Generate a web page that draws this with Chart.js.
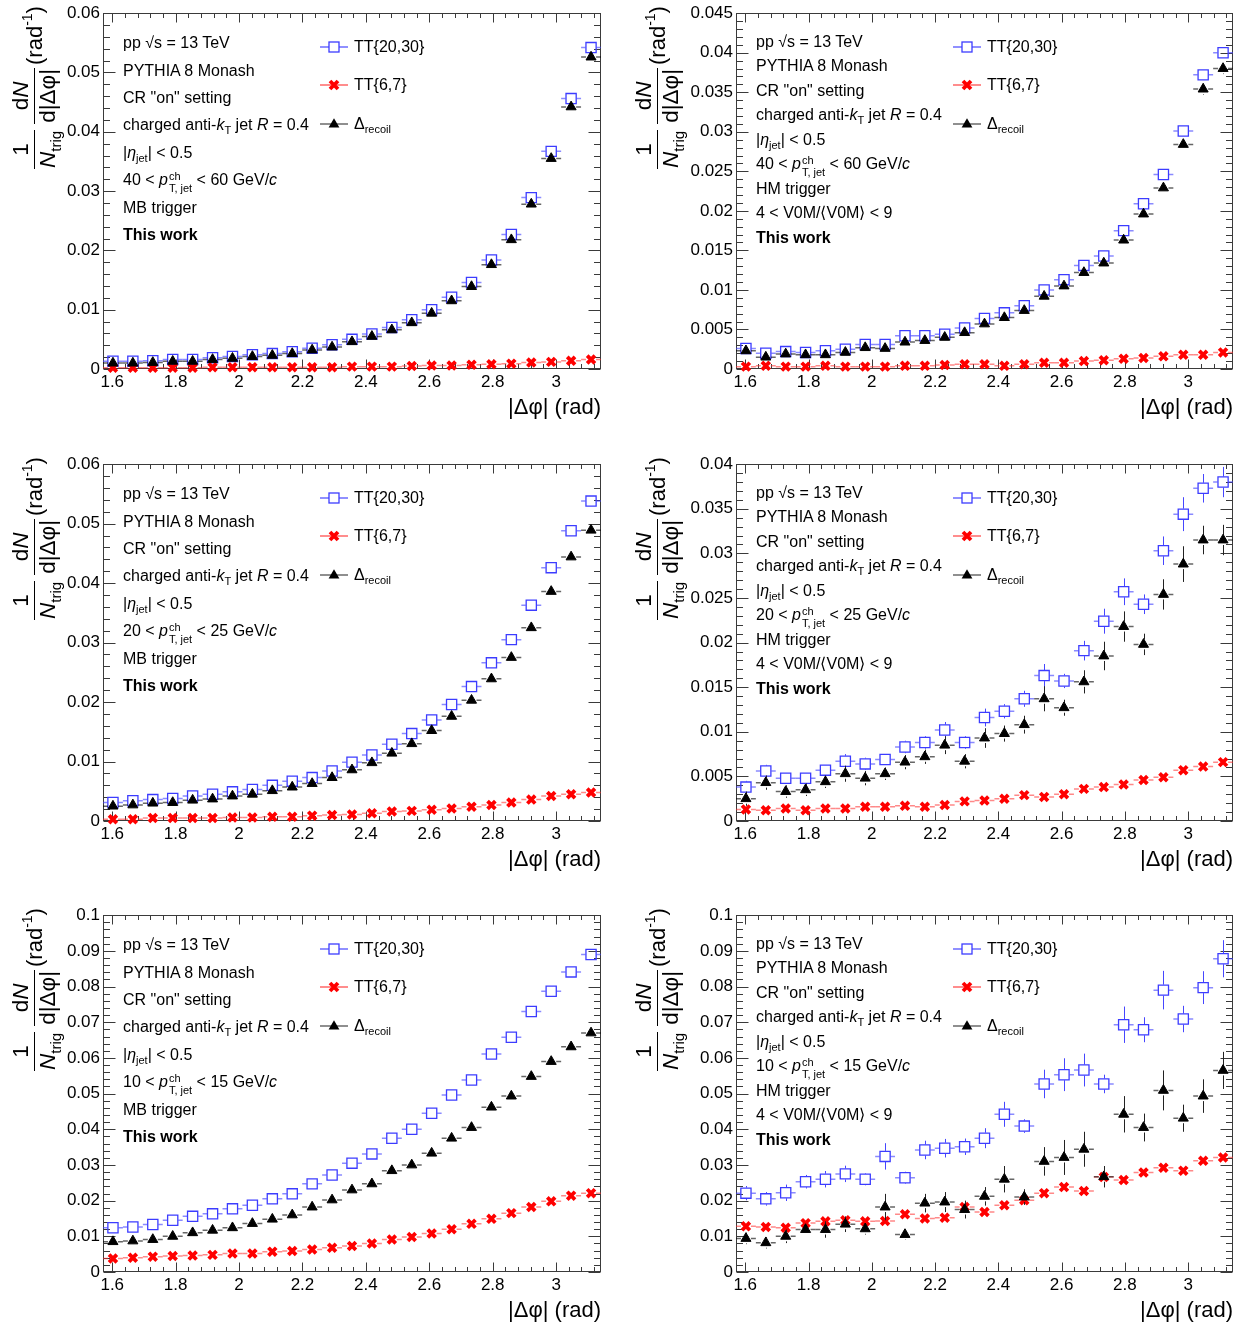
<!DOCTYPE html>
<html>
<head>
<meta charset="utf-8">
<script src="https://cdn.jsdelivr.net/npm/chart.js@4.4.0/dist/chart.umd.min.js"></script>
<style>
html,body{margin:0;padding:0;background:#fff;}
body{width:1253px;height:1328px;position:relative;overflow:hidden;font-family:"Liberation Sans",Arial,Helvetica,sans-serif;color:#000;}
canvas.pc{position:absolute;z-index:1;}
.t{position:absolute;font-size:16px;line-height:20px;white-space:nowrap;z-index:2;}
sub.s{font-size:11px;vertical-align:-4px;line-height:0;}
.ss{display:inline-block;vertical-align:-7px;font-size:11px;line-height:12px;margin-left:1px;}
.ss span{display:block;}
.leg{position:absolute;z-index:2;height:20px;display:flex;align-items:center;font-size:16px;white-space:nowrap;}
.leg svg{display:block;margin-right:5px;}
.yt{position:absolute;width:200px;height:60px;display:flex;align-items:center;justify-content:center;transform:rotate(-90deg);z-index:2;font-size:22px;white-space:nowrap;}
.fr{display:inline-flex;flex-direction:column;align-items:center;margin:0 3px;font-size:22.5px;}
.fr .nu{line-height:23px;padding:0 1px 2px;}
.fr .de{line-height:26px;border-top:1.7px solid #000;padding:0 1px;}
.fr sub{font-size:15px;vertical-align:-6px;line-height:0;}
.un sup{font-size:14px;vertical-align:10px;line-height:0;}
</style>
</head>
<body>
<script>
// ---------------- data ----------------
const binCenters = [1.6022,1.6650,1.7279,1.7907,1.8535,1.9164,1.9792,2.0420,2.1049,2.1677,2.2305,2.2934,2.3562,2.4190,2.4819,2.5447,2.6075,2.6704,2.7332,2.7960,2.8588,2.9217,2.9845,3.0473,3.1102];
const binHalfWidth = 0.0314;
const xMin = 1.5708, xMax = 3.1416;
const xTickValues = [1.6,1.8,2.0,2.2,2.4,2.6,2.8,3.0];
const yTicks006 = [0,0.01,0.02,0.03,0.04,0.05,0.06];
const yTicks0045 = [0,0.005,0.01,0.015,0.02,0.025,0.03,0.035,0.04,0.045];
const yTicks004 = [0,0.005,0.01,0.015,0.02,0.025,0.03,0.035,0.04];
const yTicks01 = [0,0.01,0.02,0.03,0.04,0.05,0.06,0.07,0.08,0.09,0.1];
const seriesLabels = ['TT{20,30}','TT{6,7}','Δ<sub class="s">recoil</sub>'];
const xAxisTitle = '|Δφ| (rad)';
const commonLines = ['pp √s = 13 TeV','PYTHIA 8 Monash','CR "on" setting','charged anti-<i>k</i><sub class="s">T</sub> jet <i>R</i> = 0.4','|<i>η</i><sub class="s">jet</sub>| &lt; 0.5'];
const ptRanges = [['40','60'],['20','25'],['10','15']];
const mbLines = ['MB trigger'];
const hmLines = ['HM trigger','4 &lt; V0M/⟨V0M⟩ &lt; 9'];
const workLabel = '<b>This work</b>';

// Panel 1: MB, 40-60
const p1_tt20 = [0.0013,0.0013,0.0014,0.0016,0.0016,0.0019,0.0021,0.0024,0.0026,0.0029,0.0035,0.0041,0.0050,0.0059,0.0070,0.0083,0.0100,0.0121,0.0146,0.0184,0.0227,0.0289,0.0367,0.0456,0.0542];
const p1_tt20_err = [0.0001,0.0001,0.0001,0.0001,0.0001,0.0001,0.0001,0.0001,0.0001,0.0001,0.0001,0.0001,0.0001,0.0002,0.0002,0.0002,0.0002,0.0002,0.0002,0.0003,0.0003,0.0003,0.0004,0.0004,0.0004];
const p1_tt67 = [0.0002,0.0002,0.0002,0.0002,0.0002,0.0003,0.0003,0.0003,0.0003,0.0003,0.0003,0.0003,0.0004,0.0004,0.0004,0.0005,0.0006,0.0006,0.0007,0.0008,0.0009,0.0011,0.0012,0.0014,0.0016];
const p1_tt67_err = [0.00005,0.00005,0.00005,0.00005,0.00005,0.00005,0.00005,0.00005,0.00005,0.00005,0.00005,0.00005,0.00005,0.00005,0.00005,0.00005,0.00005,0.00005,0.00005,0.00005,0.00005,0.00005,0.00005,0.00005,0.00005];
const p1_drec = [0.0010,0.0010,0.0011,0.0013,0.0013,0.0016,0.0018,0.0021,0.0023,0.0026,0.0032,0.0037,0.0046,0.0055,0.0066,0.0078,0.0094,0.0115,0.0139,0.0176,0.0218,0.0278,0.0355,0.0442,0.0526];
const p1_drec_err = [0.0001,0.0001,0.0001,0.0001,0.0001,0.0001,0.0001,0.0001,0.0001,0.0001,0.0001,0.0001,0.0001,0.0002,0.0002,0.0002,0.0002,0.0002,0.0002,0.0003,0.0003,0.0003,0.0004,0.0004,0.0004];

// Panel 2: HM, 40-60
const p2_tt20 = [0.0026,0.0020,0.0022,0.0021,0.0023,0.0025,0.0031,0.0031,0.0042,0.0042,0.0044,0.0052,0.0064,0.0071,0.0080,0.0100,0.0113,0.0131,0.0143,0.0175,0.0209,0.0246,0.0301,0.0372,0.0400];
const p2_tt20_err = [0.0002,0.0002,0.0002,0.0002,0.0002,0.0002,0.0002,0.0002,0.0002,0.0002,0.0002,0.0002,0.0003,0.0003,0.0003,0.0003,0.0003,0.0004,0.0004,0.0004,0.0005,0.0005,0.0005,0.0006,0.0006];
const p2_tt67 = [0.0003,0.0004,0.0003,0.0003,0.0004,0.0003,0.0003,0.0003,0.0004,0.0004,0.0005,0.0006,0.0006,0.0004,0.0006,0.0008,0.0008,0.0010,0.0011,0.0013,0.0014,0.0016,0.0018,0.0018,0.0021];
const p2_tt67_err = [0.0001,0.0001,0.0001,0.0001,0.0001,0.0001,0.0001,0.0001,0.0001,0.0001,0.0001,0.0001,0.0001,0.0001,0.0001,0.0001,0.0001,0.0001,0.0001,0.0001,0.0001,0.0001,0.0001,0.0001,0.0001];
const p2_drec = [0.0023,0.0015,0.0019,0.0018,0.0018,0.0021,0.0027,0.0026,0.0034,0.0036,0.0040,0.0046,0.0057,0.0065,0.0074,0.0092,0.0105,0.0122,0.0134,0.0163,0.0196,0.0229,0.0284,0.0354,0.0380];
const p2_drec_err = [0.0002,0.0002,0.0002,0.0002,0.0002,0.0002,0.0002,0.0002,0.0002,0.0002,0.0002,0.0003,0.0003,0.0003,0.0003,0.0004,0.0004,0.0004,0.0005,0.0005,0.0005,0.0006,0.0006,0.0007,0.0007];

// Panel 3: MB, 20-25
const p3_tt20 = [0.0031,0.0034,0.0036,0.0038,0.0042,0.0045,0.0049,0.0053,0.0060,0.0067,0.0073,0.0084,0.0099,0.0111,0.0129,0.0147,0.0170,0.0196,0.0226,0.0266,0.0305,0.0363,0.0426,0.0488,0.0538];
const p3_tt20_err = [0.0001,0.0001,0.0001,0.0001,0.0001,0.0001,0.0001,0.0001,0.0001,0.0001,0.0002,0.0002,0.0002,0.0002,0.0002,0.0002,0.0002,0.0003,0.0003,0.0003,0.0003,0.0004,0.0004,0.0004,0.0004];
const p3_tt67 = [0.0003,0.0003,0.0005,0.0005,0.0005,0.0005,0.0006,0.0006,0.0007,0.0007,0.0009,0.0010,0.0011,0.0013,0.0016,0.0017,0.0019,0.0021,0.0024,0.0027,0.0031,0.0036,0.0042,0.0045,0.0048];
const p3_tt67_err = [0.00005,0.00005,0.00005,0.00005,0.00005,0.00005,0.00005,0.00005,0.00005,0.00005,0.00005,0.00005,0.00005,0.00005,0.00005,0.00005,0.00005,0.00005,0.00005,0.00005,0.00005,0.00005,0.00005,0.00005,0.00005];
const p3_drec = [0.0025,0.0027,0.0030,0.0031,0.0035,0.0037,0.0042,0.0045,0.0051,0.0057,0.0063,0.0073,0.0086,0.0098,0.0114,0.0130,0.0152,0.0176,0.0203,0.0239,0.0275,0.0325,0.0386,0.0444,0.0489];
const p3_drec_err = [0.0001,0.0001,0.0001,0.0001,0.0001,0.0001,0.0001,0.0001,0.0001,0.0001,0.0002,0.0002,0.0002,0.0002,0.0002,0.0002,0.0002,0.0003,0.0003,0.0003,0.0003,0.0004,0.0004,0.0004,0.0004];

// Panel 4: HM, 20-25
const p4_tt20 = [0.0038,0.0056,0.0048,0.0048,0.0057,0.0067,0.0064,0.0069,0.0083,0.0088,0.0102,0.0088,0.0116,0.0123,0.0137,0.0163,0.0157,0.0191,0.0224,0.0257,0.0243,0.0303,0.0344,0.0373,0.0380];
const p4_tt20_err = [0.0007,0.0007,0.0006,0.0006,0.0006,0.0008,0.0007,0.0006,0.0007,0.0007,0.0009,0.0007,0.0010,0.0008,0.0009,0.0013,0.0008,0.0011,0.0014,0.0015,0.0011,0.0016,0.0019,0.0016,0.0017];
const p4_tt67 = [0.0013,0.0012,0.0014,0.0012,0.0014,0.0014,0.0016,0.0016,0.0017,0.0016,0.0018,0.0022,0.0023,0.0025,0.0029,0.0027,0.0030,0.0036,0.0038,0.0041,0.0046,0.0049,0.0057,0.0061,0.0066];
const p4_tt67_err = [0.0002,0.0002,0.0002,0.0002,0.0002,0.0002,0.0002,0.0002,0.0002,0.0002,0.0002,0.0002,0.0002,0.0002,0.0003,0.0003,0.0003,0.0003,0.0003,0.0003,0.0003,0.0003,0.0003,0.0003,0.0003];
const p4_drec = [0.0025,0.0043,0.0033,0.0035,0.0044,0.0053,0.0048,0.0053,0.0066,0.0072,0.0085,0.0067,0.0093,0.0098,0.0108,0.0137,0.0127,0.0156,0.0185,0.0218,0.0198,0.0254,0.0288,0.0315,0.0315];
const p4_drec_err = [0.0008,0.0008,0.0007,0.0007,0.0007,0.0009,0.0008,0.0007,0.0008,0.0008,0.0010,0.0008,0.0011,0.0009,0.0010,0.0014,0.0009,0.0013,0.0016,0.0017,0.0012,0.0017,0.0020,0.0016,0.0017];

// Panel 5: MB, 10-15
const p5_tt20 = [0.0124,0.0126,0.0133,0.0145,0.0156,0.0163,0.0177,0.0187,0.0205,0.0219,0.0247,0.0272,0.0305,0.0331,0.0375,0.0400,0.0445,0.0496,0.0538,0.0611,0.0658,0.0730,0.0787,0.0841,0.0890];
const p5_tt20_err = [0.0003,0.0003,0.0003,0.0003,0.0003,0.0003,0.0004,0.0004,0.0004,0.0004,0.0005,0.0005,0.0005,0.0005,0.0006,0.0006,0.0006,0.0007,0.0007,0.0007,0.0008,0.0008,0.0008,0.0009,0.0009];
const p5_tt67 = [0.0038,0.0040,0.0043,0.0045,0.0046,0.0048,0.0052,0.0052,0.0057,0.0059,0.0063,0.0068,0.0073,0.0080,0.0091,0.0098,0.0108,0.0120,0.0135,0.0149,0.0165,0.0182,0.0198,0.0214,0.0221];
const p5_tt67_err = [0.0002,0.0002,0.0002,0.0002,0.0002,0.0002,0.0002,0.0002,0.0002,0.0002,0.0002,0.0002,0.0002,0.0002,0.0003,0.0003,0.0003,0.0003,0.0003,0.0003,0.0004,0.0004,0.0004,0.0004,0.0004];
const p5_drec = [0.0085,0.0087,0.0091,0.0100,0.0110,0.0117,0.0124,0.0136,0.0148,0.0160,0.0182,0.0202,0.0230,0.0247,0.0284,0.0300,0.0333,0.0375,0.0405,0.0462,0.0493,0.0548,0.0590,0.0631,0.0670];
const p5_drec_err = [0.0004,0.0004,0.0004,0.0004,0.0004,0.0004,0.0004,0.0004,0.0005,0.0005,0.0005,0.0005,0.0006,0.0006,0.0006,0.0007,0.0007,0.0007,0.0008,0.0008,0.0008,0.0009,0.0009,0.0010,0.0010];

// Panel 6: HM, 10-15
const p6_tt20 = [0.0221,0.0205,0.0222,0.0253,0.0260,0.0275,0.0260,0.0324,0.0264,0.0342,0.0347,0.0351,0.0375,0.0442,0.0409,0.0527,0.0553,0.0566,0.0527,0.0693,0.0679,0.0790,0.0709,0.0797,0.0878];
const p6_tt20_err = [0.0020,0.0019,0.0023,0.0019,0.0023,0.0023,0.0017,0.0037,0.0017,0.0026,0.0026,0.0023,0.0028,0.0035,0.0019,0.0040,0.0046,0.0046,0.0026,0.0051,0.0035,0.0054,0.0037,0.0046,0.0052];
const p6_tt67 = [0.0128,0.0126,0.0124,0.0137,0.0142,0.0145,0.0142,0.0143,0.0162,0.0150,0.0152,0.0182,0.0168,0.0187,0.0201,0.0221,0.0238,0.0227,0.0266,0.0258,0.0279,0.0292,0.0284,0.0312,0.0321];
const p6_tt67_err = [0.0008,0.0008,0.0008,0.0008,0.0008,0.0008,0.0008,0.0008,0.0008,0.0008,0.0008,0.0008,0.0008,0.0008,0.0008,0.0008,0.0008,0.0008,0.0008,0.0008,0.0008,0.0008,0.0008,0.0008,0.0008];
const p6_drec = [0.0094,0.0082,0.0100,0.0119,0.0119,0.0134,0.0121,0.0182,0.0105,0.0193,0.0196,0.0175,0.0212,0.0260,0.0210,0.0310,0.0321,0.0344,0.0267,0.0442,0.0405,0.0509,0.0431,0.0493,0.0565];
const p6_drec_err = [0.0016,0.0016,0.0019,0.0014,0.0023,0.0022,0.0016,0.0037,0.0015,0.0026,0.0028,0.0025,0.0026,0.0037,0.0022,0.0040,0.0049,0.0049,0.0030,0.0051,0.0039,0.0056,0.0038,0.0047,0.0052];

// ---------------- layout ----------------
const layout = [
  {L:103,T:11,R:601,B:369,tx:-68},
  {L:736,T:11,R:1233,B:369,tx:-78},
  {L:103,T:462,R:601,B:821,tx:-68},
  {L:736,T:462,R:1233,B:821,tx:-78},
  {L:103,T:913,R:601,B:1272,tx:-68},
  {L:736,T:913,R:1233,B:1272,tx:-78}
];
const panels = [
  {tt20:p1_tt20,tt20e:p1_tt20_err,tt67:p1_tt67,tt67e:p1_tt67_err,dr:p1_drec,dre:p1_drec_err,ymax:0.06,yt:yTicks006,ymaj:0.01,ymin:0.002,pt:ptRanges[0],hm:false},
  {tt20:p2_tt20,tt20e:p2_tt20_err,tt67:p2_tt67,tt67e:p2_tt67_err,dr:p2_drec,dre:p2_drec_err,ymax:0.045,yt:yTicks0045,ymaj:0.005,ymin:0.001,pt:ptRanges[0],hm:true},
  {tt20:p3_tt20,tt20e:p3_tt20_err,tt67:p3_tt67,tt67e:p3_tt67_err,dr:p3_drec,dre:p3_drec_err,ymax:0.06,yt:yTicks006,ymaj:0.01,ymin:0.002,pt:ptRanges[1],hm:false},
  {tt20:p4_tt20,tt20e:p4_tt20_err,tt67:p4_tt67,tt67e:p4_tt67_err,dr:p4_drec,dre:p4_drec_err,ymax:0.04,yt:yTicks004,ymaj:0.005,ymin:0.001,pt:ptRanges[1],hm:true},
  {tt20:p5_tt20,tt20e:p5_tt20_err,tt67:p5_tt67,tt67e:p5_tt67_err,dr:p5_drec,dre:p5_drec_err,ymax:0.1,yt:yTicks01,ymaj:0.01,ymin:0.002,pt:ptRanges[2],hm:false},
  {tt20:p6_tt20,tt20e:p6_tt20_err,tt67:p6_tt67,tt67e:p6_tt67_err,dr:p6_drec,dre:p6_drec_err,ymax:0.1,yt:yTicks01,ymaj:0.01,ymin:0.002,pt:ptRanges[2],hm:true}
];

Chart.defaults.font.family = '"Liberation Sans", Arial, Helvetica, sans-serif';
const fmt = v => String(parseFloat(Number(v).toFixed(4)));

const framePlugin = {
  id: 'frame',
  beforeDatasetsDraw(chart, args, o) {
    const {ctx, chartArea: a} = chart;
    const xs = chart.scales.x, ys = chart.scales.y;
    ctx.save();
    ctx.strokeStyle = '#3a3a3a';
    ctx.lineWidth = 1;
    const l = Math.round(a.left) + 0.5, r = Math.round(a.right) - 0.5;
    const t = Math.round(a.top) + 0.5, b = Math.round(a.bottom) - 0.5;
    ctx.strokeRect(l, t, r - l, b - t);
    ctx.beginPath();
    const n = Math.round(o.ymax / o.ymin);
    const per = Math.round(o.ymaj / o.ymin);
    for (let j = 0; j <= n; j++) {
      const py = Math.round(ys.getPixelForValue(j * o.ymin)) + 0.5;
      const len = (j % per === 0) ? 12 : 6.5;
      ctx.moveTo(l, py); ctx.lineTo(l + len, py);
      ctx.moveTo(r, py); ctx.lineTo(r - len, py);
    }
    for (let j = 0; j <= 38; j++) {
      const px = Math.round(xs.getPixelForValue(1.6 + 0.04 * j)) + 0.5;
      const len = (j % 5 === 0) ? 9 : 4.5;
      ctx.moveTo(px, b); ctx.lineTo(px, b - len);
      ctx.moveTo(px, t); ctx.lineTo(px, t + len);
    }
    ctx.stroke();
    ctx.restore();
  }
};

const errPlugin = {
  id: 'errbars',
  beforeDatasetDraw(chart, args) {
    const ds = chart.data.datasets[args.index];
    const ctx = chart.ctx, xs = chart.scales.x, ys = chart.scales.y;
    ctx.save();
    ds.data.forEach((pt, i) => {
      const px = xs.getPixelForValue(pt.x);
      const py = ys.getPixelForValue(pt.y);
      const xl = xs.getPixelForValue(pt.x - binHalfWidth);
      const xr = xs.getPixelForValue(pt.x + binHalfWidth);
      const yt = ys.getPixelForValue(pt.y + ds.errs[i]);
      const yb = ys.getPixelForValue(pt.y - ds.errs[i]);
      const g = ds.gap;
      ctx.strokeStyle = ds.hColor; ctx.lineWidth = 1.5;
      ctx.beginPath();
      ctx.moveTo(xl, py); ctx.lineTo(px - g, py);
      ctx.moveTo(px + g, py); ctx.lineTo(xr, py);
      ctx.stroke();
      if (py - yt > g) {
        const vx = Math.round(px) + 0.5;
        ctx.strokeStyle = ds.vColor; ctx.lineWidth = 1;
        ctx.beginPath();
        ctx.moveTo(vx, yt); ctx.lineTo(vx, py - g);
        ctx.moveTo(vx, py + g); ctx.lineTo(vx, yb);
        ctx.stroke();
      }
    });
    ctx.restore();
  }
};

function addDiv(cls, left, top, html) {
  const d = document.createElement('div');
  d.className = cls;
  d.style.left = left + 'px';
  d.style.top = top + 'px';
  d.innerHTML = html;
  document.body.appendChild(d);
  return d;
}

const legendSvgs = [
  '<svg width="30" height="20"><line x1="1" y1="10" x2="29" y2="10" stroke="#4646ff" stroke-width="1.2"/><rect x="10" y="5" width="10" height="10" fill="#fff" stroke="#3c3cff" stroke-width="1.3"/></svg>',
  '<svg width="30" height="20"><line x1="1" y1="10" x2="29" y2="10" stroke="#ff4040" stroke-width="1.2"/><path d="M11 6 L19 14 M19 6 L11 14" stroke="#ff0000" stroke-width="3.8"/></svg>',
  '<svg width="30" height="20"><line x1="1" y1="10" x2="29" y2="10" stroke="#444" stroke-width="1.2"/><polygon points="15,4.3 20.4,13.5 9.6,13.5" fill="#000"/></svg>'
];

panels.forEach((p, k) => {
  const g = layout[k];
  const cl = g.L - 103, ct = g.T - 11;
  const cw = g.R + 20 - cl, chh = (g.B - g.T) + 11 + 74;
  const cv = document.createElement('canvas');
  cv.className = 'pc';
  cv.width = cw; cv.height = chh;
  cv.style.left = cl + 'px'; cv.style.top = ct + 'px';
  cv.style.width = cw + 'px'; cv.style.height = chh + 'px';
  document.body.appendChild(cv);
  const mk = vals => vals.map((v, i) => ({x: binCenters[i], y: v}));
  new Chart(cv, {
    type: 'scatter',
    data: {datasets: [
      {label: 'Δrecoil', data: mk(p.dr), errs: p.dre, pointStyle: 'triangle', pointRadius: 5.8, backgroundColor: '#000', borderColor: '#000', borderWidth: 1, gap: 5, hColor: 'rgba(0,0,0,0.6)', vColor: '#222', clip: false},
      {label: 'TT{6,7}', data: mk(p.tt67), errs: p.tt67e, pointStyle: 'crossRot', pointRadius: 5.5, backgroundColor: '#ff0000', borderColor: '#ff0000', borderWidth: 3.8, gap: 5, hColor: 'rgba(255,40,40,0.55)', vColor: '#ff2020', clip: false},
      {label: 'TT{20,30}', data: mk(p.tt20), errs: p.tt20e, pointStyle: 'rect', pointRadius: 7.2, backgroundColor: 'rgba(255,255,255,0)', borderColor: '#3c3cff', borderWidth: 1.3, gap: 5.5, hColor: 'rgba(60,60,255,0.6)', vColor: '#4646ff', clip: false}
    ]},
    options: {
      responsive: false, animation: false, events: [],
      layout: {padding: {top: 11, right: 20, left: 0, bottom: 0}},
      plugins: {legend: {display: false}, tooltip: {enabled: false},
        frame: {ymax: p.ymax, ymaj: p.ymaj, ymin: p.ymin}},
      scales: {
        x: {type: 'linear', min: xMin, max: xMax,
          grid: {display: false, drawTicks: false}, border: {display: false},
          afterBuildTicks: s => { s.ticks = xTickValues.map(v => ({value: v})); },
          afterFit: s => { s.height = 74; },
          ticks: {autoSkip: false, maxRotation: 0, minRotation: 0, padding: 3, color: '#000', font: {size: 17}, callback: v => fmt(v)},
          title: {display: true, text: xAxisTitle, align: 'end', color: '#000', font: {size: 22}, padding: {top: 0, bottom: 22}}
        },
        y: {type: 'linear', min: 0, max: p.ymax,
          grid: {display: false, drawTicks: false}, border: {display: false},
          afterBuildTicks: s => { s.ticks = p.yt.map(v => ({value: v})); },
          afterFit: s => { s.width = 103; },
          ticks: {autoSkip: false, padding: 3, color: '#000', font: {size: 17}, callback: v => fmt(v)}
        }
      }
    },
    plugins: [framePlugin, errPlugin]
  });

  // annotation text
  const lines = commonLines.concat([
    p.pt[0] + ' &lt; <i>p</i><span class="ss"><span>ch</span><span>T, jet</span></span> &lt; ' + p.pt[1] + ' GeV/<i>c</i>'
  ]).concat(p.hm ? hmLines : mbLines).concat([workLabel]);
  const y0 = p.hm ? g.T + 30.5 : g.T + 32.1;
  const dy = p.hm ? 24.5 : 27.45;
  lines.forEach((s, j) => addDiv('t', g.L + 20, Math.round(y0 + j * dy - 10), s));

  // legend
  const ly = [g.T + 36, g.T + 74, g.T + 112.5];
  seriesLabels.forEach((s, j) => addDiv('leg', g.L + 216, Math.round(ly[j] - 10), legendSvgs[j] + '<span>' + s + '</span>'));

  // y-axis title
  const cx = g.L + g.tx, cy = g.T + 78;
  addDiv('yt', cx - 100, cy - 30,
    '<span class="fr"><span class="nu">1</span><span class="de"><i>N</i><sub>trig</sub></span></span>' +
    '<span class="fr"><span class="nu">d<i>N</i></span><span class="de">d|Δφ|</span></span>' +
    '<span class="un">(rad<sup>-1</sup>)</span>');
});
</script>
</body>
</html>
